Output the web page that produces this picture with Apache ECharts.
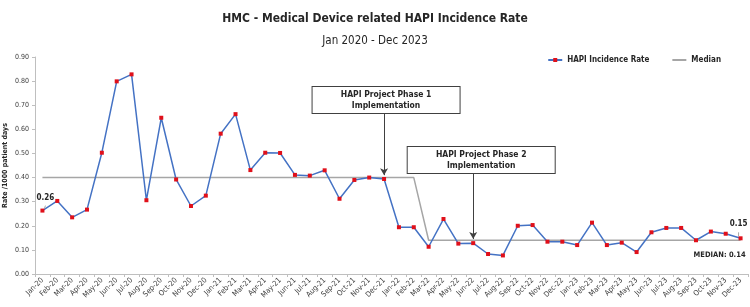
<!DOCTYPE html>
<html>
<head>
<meta charset="utf-8">
<script src="https://cdn.jsdelivr.net/npm/echarts@6/dist/echarts.min.js"></script>
<style>
  html, body { margin: 0; padding: 0; background: #fff; }
  #chart { width: 750px; height: 307px; }
</style>
</head>
<body>
<div id="chart"></div>
<script>
var chartDom = document.getElementById('chart');
var myChart = echarts.init(chartDom);

var months = ['Jan-20','Feb-20','Mar-20','Apr-20','May-20','Jun-20','Jul-20','Aug-20','Sep-20','Oct-20','Nov-20','Dec-20',
  'Jan-21','Feb-21','Mar-21','Apr-21','May-21','Jun-21','Jul-21','Aug-21','Sep-21','Oct-21','Nov-21','Dec-21',
  'Jan-22','Feb-22','Mar-22','Apr-22','May-22','Jun-22','Jul-22','Aug-22','Sep-22','Oct-22','Nov-22','Dec-22',
  'Jan-23','Feb-23','Mar-23','Apr-23','May-23','Jun-23','Jul-23','Aug-23','Sep-23','Oct-23','Nov-23','Dec-23'];

var rate = [0.263, 0.303, 0.235, 0.267, 0.503, 0.799, 0.828, 0.306, 0.648, 0.392, 0.282, 0.325,
  0.582, 0.663, 0.431, 0.503, 0.502, 0.411, 0.408, 0.430, 0.312, 0.390, 0.400, 0.394,
  0.194, 0.194, 0.113, 0.228, 0.126, 0.128, 0.083, 0.077, 0.200, 0.203, 0.134, 0.134,
  0.120, 0.213, 0.120, 0.130, 0.091, 0.173, 0.191, 0.191, 0.140, 0.176, 0.167, 0.148];

var median = [0.40, 0.40, 0.40, 0.40, 0.40, 0.40, 0.40, 0.40, 0.40, 0.40, 0.40, 0.40,
  0.40, 0.40, 0.40, 0.40, 0.40, 0.40, 0.40, 0.40, 0.40, 0.40, 0.40, 0.40,
  0.40, 0.40, 0.14, 0.14, 0.14, 0.14, 0.14, 0.14, 0.14, 0.14, 0.14, 0.14,
  0.14, 0.14, 0.14, 0.14, 0.14, 0.14, 0.14, 0.14, 0.14, 0.14, 0.14, 0.14];

var yTicks = [0, 0.9, 0.1];  // min, max, interval

var font = '"DejaVu Sans Condensed", "Liberation Sans Narrow", sans-serif';

var rateData = rate.map(function (v, i) {
  if (i === 0) {
    return { value: v, label: { show: true, formatter: v.toFixed(2), position: 'top', offset: [3, -2] } };
  }
  if (i === rate.length - 1) {
    return { value: v, label: { show: true, formatter: v.toFixed(2), position: 'top', offset: [-2, -3] } };
  }
  return v;
});

var last = months.length - 1;

// note boxes: label with its own background and border
var boxLabel = {
  show: true,
  position: 'inside',
  color: '#262626',
  fontSize: 8.5,
  fontWeight: 'bold',
  lineHeight: 11,
  align: 'center',
  verticalAlign: 'middle',
  backgroundColor: '#fff',
  borderColor: '#404040',
  borderWidth: 1,
  padding: [2, 0, 2, 0],
  width: 147
};

myChart.setOption({
  animation: false,
  textStyle: { fontFamily: font },
  title: [{
    text: 'HMC - Medical Device related HAPI Incidence Rate',
    left: 'center',
    top: 8,
    textStyle: { fontSize: 12, fontWeight: 'bold', color: '#262626', fontFamily: font }
  }, {
    text: 'Jan 2020 - Dec 2023',
    left: 'center',
    top: 30,
    textStyle: { fontSize: 11.5, fontWeight: 'normal', color: '#262626', fontFamily: font }
  }],
  legend: {
    right: 24,
    top: 51,
    itemGap: 22,
    itemWidth: 14,
    itemHeight: 5,
    textStyle: { fontSize: 8, fontWeight: 'bold', color: '#262626', fontFamily: font },
    data: [{ name: 'HAPI Incidence Rate' }, { name: 'Median', itemStyle: { opacity: 0 } }]
  },
  grid: { left: 35, right: 2, top: 57, bottom: 33, outerBoundsMode: 'none' },
  xAxis: {
    type: 'category',
    data: months,
    boundaryGap: true,
    axisLine: { lineStyle: { color: '#bfbfbf' } },
    axisTick: { show: true, length: 3, lineStyle: { color: '#bfbfbf' } },
    axisLabel: { rotate: 45, fontSize: 7.5, color: '#404040', margin: 5, interval: 0 }
  },
  yAxis: {
    type: 'value',
    min: yTicks[0],
    max: yTicks[1],
    interval: yTicks[2],
    name: 'Rate /1000 patient days',
    nameLocation: 'middle',
    nameGap: 26,
    nameMoveOverlap: false,
    nameTextStyle: { fontSize: 7, fontWeight: 'bold', color: '#262626' },
    axisLine: { show: true, lineStyle: { color: '#bfbfbf' } },
    axisTick: { show: true, length: 3, lineStyle: { color: '#bfbfbf' } },
    splitLine: { show: false },
    axisLabel: { fontSize: 7, color: '#404040', margin: 6, formatter: function (v) { return v.toFixed(2); } }
  },
  series: [{
    name: 'HAPI Incidence Rate',
    type: 'line',
    data: rateData,
    symbol: 'rect',
    symbolSize: 4,
    z: 3,
    lineStyle: { color: '#4472c4', width: 1.5 },
    itemStyle: { color: '#e0101a' },
    label: { fontSize: 8, fontWeight: 'bold', color: '#262626' },
    labelLine: { show: true, lineStyle: { color: '#a6a6a6', width: 1 } },
    markLine: {
      silent: true,
      symbol: ['none', 'arrow'],
      symbolSize: [6, 7],
      label: { show: false },
      lineStyle: { color: '#404040', width: 1, type: 'solid' },
      itemStyle: { color: '#404040' },
      data: [
        [{ coord: ['Dec-21', 0.668] }, { coord: ['Dec-21', 0.41] }],
        [{ coord: ['Jun-22', 0.419] }, { coord: ['Jun-22', 0.145] }]
      ]
    },
    markPoint: {
      silent: true,
      symbol: 'rect',
      symbolSize: 0,
      label: boxLabel,
      data: [
        { coord: ['Dec-21', 0.722], label: { formatter: 'HAPI Project Phase 1\nImplementation', offset: [2, 0] } },
        { coord: ['Jun-22', 0.473], label: { formatter: 'HAPI Project Phase 2\nImplementation', offset: [8, 0] } }
      ]
    }
  }, {
    name: 'Median',
    type: 'line',
    data: median,
    symbol: 'none',
    z: 2,
    lineStyle: { color: '#a6a6a6', width: 1.5 },
    itemStyle: { color: '#a6a6a6' },
    markPoint: {
      silent: true,
      symbol: 'circle',
      symbolSize: 0,
      label: {
        show: true,
        position: 'bottom',
        offset: [-21, 6],
        fontSize: 7.5,
        fontWeight: 'bold',
        color: '#262626',
        formatter: function (p) { return 'MEDIAN: ' + p.value.toFixed(2); }
      },
      data: [{ coord: [months[last], median[last]], value: median[last] }]
    }
  }]
});
</script>
</body>
</html>
